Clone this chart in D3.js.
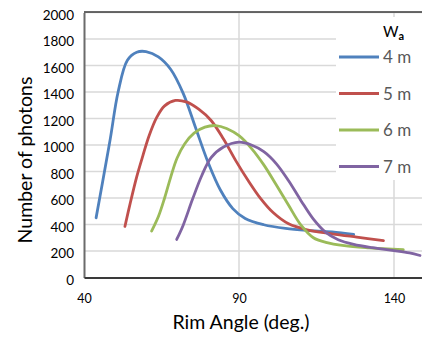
<!DOCTYPE html>
<html>
<head>
<meta charset="utf-8">
<script src="https://cdn.jsdelivr.net/npm/d3@7"></script>
<style>
  body { margin: 0; background: #fff; }
  text { font-family: Lato, "Open Sans", sans-serif; }
</style>
</head>
<body>
<script>
// rim angle (deg.) and photon counts per aperture width
var angle4 = [43.9, 46, 48.5, 51, 54, 57, 60, 64, 68, 72, 76, 80, 84, 88, 92, 98, 105, 112, 120, 127],
    photons4 = [450, 720, 1050, 1400, 1640, 1700, 1705, 1665, 1570, 1390, 1130, 870, 660, 520, 445, 398, 370, 355, 345, 325];

var angle5 = [53.2, 55, 57, 59, 61, 63.5, 66, 69.5, 73, 77, 81, 85, 89, 93, 97, 101, 106, 112, 120, 128, 136.6],
    photons5 = [385, 570, 760, 920, 1070, 1210, 1295, 1336, 1325, 1270, 1185, 1045, 880, 730, 595, 490, 405, 360, 330, 305, 279];

var angle6 = [61.8, 64, 66, 68, 70, 72.5, 75.5, 79, 82.5, 86, 90, 94, 98, 102, 106, 110, 114, 118, 124, 132, 143],
    photons6 = [350, 460, 600, 760, 900, 1010, 1090, 1135, 1147, 1125, 1070, 975, 850, 700, 545, 395, 300, 265, 240, 224, 210];

var angle7 = [69.9, 72, 75, 78, 81, 85, 90, 94, 98, 102, 106, 110, 114, 118, 122, 127, 133, 140, 145, 148.4],
    photons7 = [287, 395, 590, 770, 905, 985, 1021, 1000, 950, 860, 730, 580, 440, 340, 285, 250, 225, 203, 185, 166];

var seriesNames = ["4 m", "5 m", "6 m", "7 m"];
var colors = ["#4f81bd", "#c0504d", "#9bbb59", "#8064a2"];
var yTicks = [0, 200, 400, 600, 800, 1000, 1200, 1400, 1600, 1800, 2000];
var xTicks = [40, 90, 140];

var series = [[angle4, photons4], [angle5, photons5], [angle6, photons6], [angle7, photons7]]
  .map(function (s, i) {
    return { name: seriesNames[i], color: colors[i], pts: s[0].map(function (a, j) { return [a, s[1][j]]; }) };
  });

var width = 422, height = 337;
var svg = d3.select("body").append("svg")
  .attr("width", width)
  .attr("height", height);

var x = d3.scaleLinear().domain([40, 150]).range([84, 425]);
var y = d3.scaleLinear().domain([0, 2000]).range([277.5, 12.5]);

// grid
svg.append("g").selectAll("line")
  .data(yTicks.slice(1))
  .enter().append("line")
  .attr("x1", 84).attr("x2", width)
  .attr("y1", function (d) { return y(d); })
  .attr("y2", function (d) { return y(d); })
  .attr("stroke", "#d9d9d9").attr("stroke-width", 1.5);

svg.append("g").selectAll("line")
  .data(xTicks.slice(1))
  .enter().append("line")
  .attr("x1", function (d) { return x(d); })
  .attr("x2", function (d) { return x(d); })
  .attr("y1", y(2000)).attr("y2", y(0))
  .attr("stroke", "#d9d9d9").attr("stroke-width", 1.5);

// axes
var yAxis = svg.append("g")
  .attr("transform", "translate(84,0)")
  .call(d3.axisLeft(y).tickValues(yTicks).tickFormat(d3.format("d")).tickSize(0).tickPadding(10));
var xAxis = svg.append("g")
  .attr("transform", "translate(0," + y(0) + ")")
  .call(d3.axisBottom(x).tickValues(xTicks).tickFormat(d3.format("d")).tickSize(0).tickPadding(17));
yAxis.attr("font-family", null);
xAxis.attr("font-family", null);
yAxis.select(".domain").attr("stroke", "#6b6b6b").attr("stroke-width", 2);
xAxis.select(".domain").attr("stroke", "#3a3a3a").attr("stroke-width", 2);
yAxis.selectAll("text").attr("font-size", 13.5).attr("fill", "#000").attr("dy", "0.5em");
xAxis.selectAll("text").attr("font-size", 12.5).attr("fill", "#000");

// top border
svg.append("line")
  .attr("x1", 84).attr("x2", width)
  .attr("y1", 12).attr("y2", 12)
  .attr("stroke", "#3a3a3a").attr("stroke-width", 1.5);

// curves
var line = d3.line()
  .x(function (d) { return x(d[0]); })
  .y(function (d) { return y(d[1]); })
  .curve(d3.curveCatmullRom.alpha(0.5));

svg.append("g").selectAll("path")
  .data(series)
  .enter().append("path")
  .attr("d", function (d) { return line(d.pts); })
  .attr("fill", "none")
  .attr("stroke", function (d) { return d.color; })
  .attr("stroke-width", 2.8)
  .attr("stroke-linecap", "round");

// legend
var legend = svg.append("g");
legend.append("rect")
  .attr("x", 336).attr("y", 17)
  .attr("width", width - 336).attr("height", 163)
  .attr("fill", "#fff");

var title = legend.append("text")
  .attr("x", 383).attr("y", 37)
  .attr("font-size", 15).attr("fill", "#000");
title.append("tspan").text("W");
title.append("tspan").attr("font-size", 11).attr("dy", 3).attr("font-weight", "bold").text("a");

var item = legend.selectAll("g.item")
  .data(series)
  .enter().append("g")
  .attr("transform", function (d, i) { return "translate(0," + (57 + i * 36.5) + ")"; });
item.append("line")
  .attr("x1", 339).attr("x2", 379)
  .attr("stroke", function (d) { return d.color; })
  .attr("stroke-width", 3);
item.append("text")
  .attr("x", 383).attr("y", 6)
  .attr("font-size", 17).attr("fill", "#595959")
  .text(function (d) { return d.name; });

// titles
svg.append("text")
  .attr("x", 241).attr("y", 329)
  .attr("text-anchor", "middle")
  .attr("font-size", 19.5)
  .text("Rim Angle (deg.)");

svg.append("text")
  .attr("transform", "translate(32,160) rotate(-90)")
  .attr("text-anchor", "middle")
  .attr("font-size", 19.5)
  .text("Number of photons");
</script>
</body>
</html>
